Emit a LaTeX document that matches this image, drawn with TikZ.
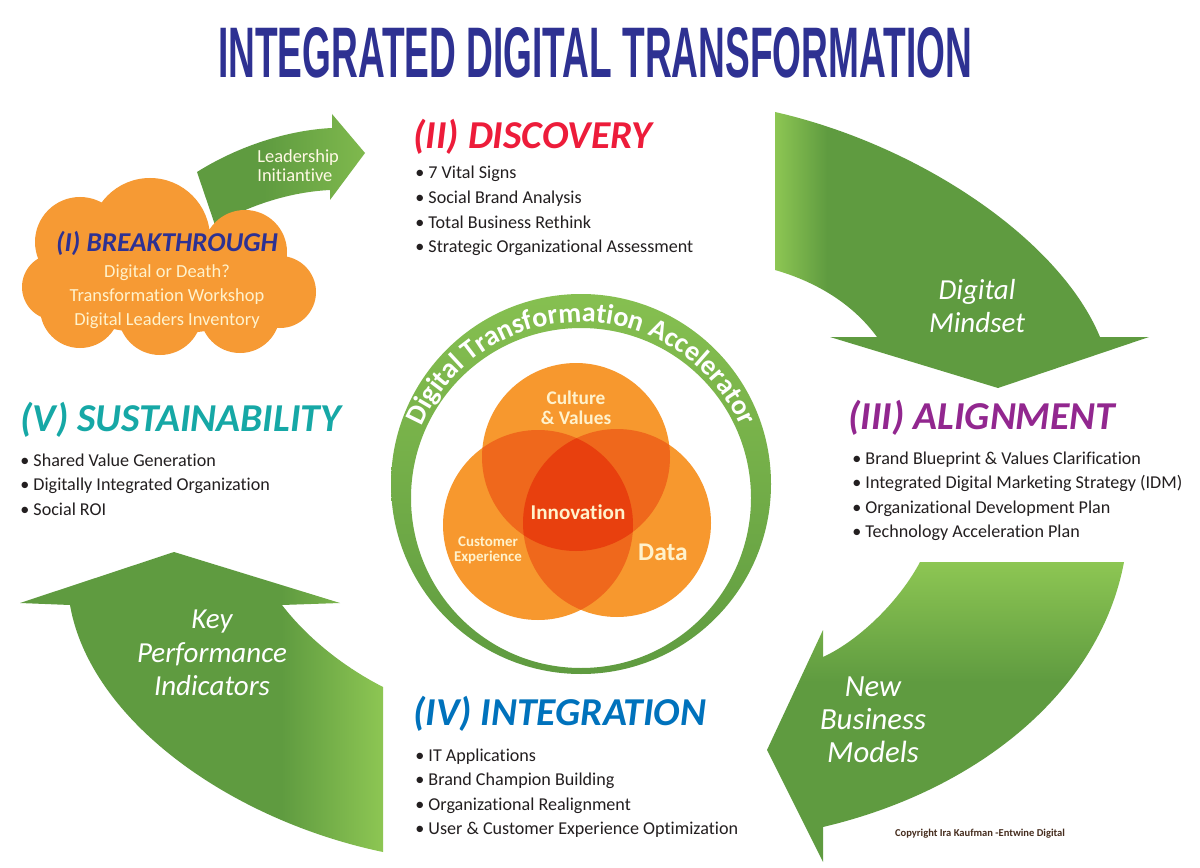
\documentclass[tikz,border=0pt]{standalone}
\usepackage{fontspec}
\setmainfont{Carlito}[Ligatures=NoCommon]
\newfontfamily\titlefont{Liberation Sans}
\usepackage{graphicx}
\usepackage{tikz}
\usetikzlibrary{decorations.text}

\definecolor{gdark}{RGB}{95,155,64}
\definecolor{glight}{RGB}{141,198,83}
\definecolor{navy}{RGB}{46,49,146}
\definecolor{discred}{RGB}{237,28,58}
\definecolor{alignpurple}{RGB}{146,39,143}
\definecolor{integblue}{RGB}{0,114,188}
\definecolor{sustteal}{RGB}{22,168,166}
\definecolor{cloudorange}{RGB}{246,154,52}
\definecolor{cream}{RGB}{255,242,204}
\definecolor{vbase}{RGB}{247,152,46}
\definecolor{vpair}{RGB}{239,104,28}
\definecolor{vtriple}{RGB}{232,64,14}
\definecolor{textgray}{RGB}{35,31,32}
\definecolor{copybrown}{RGB}{70,45,30}

\pgfdeclarehorizontalshading{leadshade}{100bp}{color(0bp)=(gdark); color(45bp)=(gdark); color(75bp)=(glight!70!gdark); color(100bp)=(glight!70!gdark)}
\pgfdeclarehorizontalshading{mindsetshade}{100bp}{color(0bp)=(glight); color(25bp)=(glight); color(32bp)=(gdark); color(100bp)=(gdark)}
\pgfdeclarehorizontalshading{kpishade}{100bp}{color(0bp)=(gdark); color(61bp)=(gdark); color(75bp)=(glight); color(100bp)=(glight)}
\pgfdeclareverticalshading{modelshade}{100bp}{color(0bp)=(gdark); color(55bp)=(gdark); color(75bp)=(glight); color(100bp)=(glight)}

\begin{document}
\begin{tikzpicture}[x=0.02cm, y=-0.02cm,
        head/.style = {anchor=base west, inner sep=0pt,
            font=\fontsize{22.5}{22.5}\selectfont\bfseries\itshape},
        item/.style = {anchor=base west, inner sep=0pt, text=textgray,
            font=\fontsize{10.3}{12}\selectfont},
        arrowtext/.style = {align=center, text=white,
            font=\fontsize{16.5}{19}\selectfont\itshape},
        venntext/.style = {align=center, text=cream, inner sep=0pt}]

    % Page
    \fill[white] (0,0) rectangle (1200,868);
    \useasboundingbox (0,0) rectangle (1200,868);

    % Title
    \node[text=navy, inner sep=0pt] (title) at (595,53)
        {\resizebox{15.08cm}{1cm}{\titlefont\bfseries INTEGRATED DIGITAL TRANSFORMATION}};

    % Leadership arrow
    \shade[shading=leadshade] (197,172) .. controls (240,145) and (290,130) .. (332,128)
        -- (332,114) -- (365,153) -- (330,200) -- (330,190)
        .. controls (290,192) and (250,205) .. (215,225) -- cycle;
    \node[align=left, anchor=west, text=cream!50!white, inner sep=0pt,
        font=\fontsize{10.5}{11}\selectfont] (lead) at (257,166) {Leadership\\Initiantive};

    % Cloud
    \fill[cloudorange] (150,238) circle (60) (80,242) circle (45) (245,252) circle (42)
        (280,292) circle (36) (240,313) circle (40) (160,313) circle (42)
        (80,308) circle (40) (55,287) circle (33) (165,282) ellipse (120 and 52);
    \node[inner sep=0pt, text=navy, font=\fontsize{15.5}{15.5}\selectfont\bfseries\itshape]
        (brk) at (167,243) {(I) BREAKTHROUGH};
    \node[align=center, text=cream, inner sep=0pt, font=\fontsize{10.5}{13.6}\selectfont]
        (brklist) at (167,297) {Digital or Death?\\Transformation Workshop\\Digital Leaders Inventory};

    % Discovery
    \node[head, text=discred] (disc) at (413,149) {(II) DISCOVERY};
    \foreach \t [count=\i] in {7 Vital Signs, Social Brand Analysis,
            Total Business Rethink, Strategic Organizational Assessment}
        \node[item] (disc\i) at (415,{179+24.6*(\i-1)}) {• \t};

    % Digital mindset arrow
    \shade[shading=mindsetshade] (775,112) .. controls (920,145) and (1060,240) .. (1100,337)
        -- (1149,337) -- (998,388) -- (830,337) -- (877,337)
        .. controls (850,300) and (810,280) .. (775,270) -- cycle;
    \node[arrowtext] (mindset) at (977,306) {Digital\\Mindset};

    % Alignment
    \node[head, text=alignpurple] (align) at (848,429) {(III) ALIGNMENT};
    \foreach \t [count=\i] in {Brand Blueprint \& Values Clarification,
            Integrated Digital Marketing Strategy (IDM),
            Organizational Development Plan, Technology Acceleration Plan}
        \node[item] (align\i) at (852,{464+24.6*(\i-1)}) {• \t};

    % New business models arrow
    \shade[shading=modelshade] (920,562) -- (1124,562)
        .. controls (1100,690) and (980,790) .. (823,827)
        -- (823,862) -- (767,750) -- (823,630) -- (823,657)
        .. controls (860,640) and (900,600) .. (920,562) -- cycle;
    \node[arrowtext, font=\fontsize{17.5}{18.8}\selectfont\itshape] (models) at (873,720)
        {New\\Business\\Models};

    % Integration
    \node[head, text=integblue] (integ) at (413,725) {(IV) INTEGRATION};
    \foreach \t [count=\i] in {IT Applications, Brand Champion Building,
            Organizational Realignment, User \& Customer Experience Optimization}
        \node[item] (integ\i) at (415,{761+24.6*(\i-1)}) {• \t};

    % KPI arrow
    \shade[shading=kpishade] (174,552) -- (340,603) -- (282,605)
        .. controls (305,635) and (340,665) .. (383,687) -- (383,852)
        .. controls (230,820) and (90,720) .. (70,605) -- (20,603) -- cycle;
    \node[arrowtext] (kpi) at (212,653) {Key\\Performance\\Indicators};

    % Sustainability
    \node[head, text=sustteal] (sust) at (20,431) {(V) SUSTAINABILITY};
    \foreach \t [count=\i] in {Shared Value Generation,
            Digitally Integrated Organization, Social ROI}
        \node[item] (sust\i) at (20,{466+24.6*(\i-1)}) {• \t};

    % Accelerator ring
    \coordinate (ringc) at (581,484);
    \coordinate (ringi) at (581,498);
    \coordinate (ringt) at (581,496);
    \shade[even odd rule, top color=glight!85!gdark, bottom color=gdark]
        (ringc) circle (190) (ringi) circle (170);
    \path[decorate, decoration={text along path, text align=center,
            text={|\fontsize{16}{16}\selectfont\bfseries\color{white}|Digital Transformation Accelerator}}]
        (ringt) ++(200:174) arc[start angle=200, end angle=340, radius=174];

    % Venn circles
    \coordinate (vtop) at (576,457);
    \coordinate (vleft) at (538,525);
    \coordinate (vright) at (617,523);
    \fill[vbase] (vtop) circle (94) (vleft) circle (95) (vright) circle (94);
    \begin{scope}
        \clip (vtop) circle (94);
        \fill[vpair] (vleft) circle (95) (vright) circle (94);
    \end{scope}
    \begin{scope}
        \clip (vleft) circle (95);
        \fill[vpair] (vright) circle (94);
    \end{scope}
    \begin{scope}
        \clip (vtop) circle (94);
        \clip (vleft) circle (95);
        \fill[vtriple] (vright) circle (94);
    \end{scope}

    % Venn labels
    \node[venntext, font=\fontsize{11}{11.5}\selectfont\bfseries] (culture) at (576,408) {Culture\\\& Values};
    \node[venntext, font=\fontsize{12}{12}\selectfont\bfseries] (innov) at (578,512) {Innovation};
    \node[venntext, font=\fontsize{8.5}{8.5}\selectfont\bfseries] (custexp) at (488,550) {Customer\\Experience};
    \node[venntext, font=\fontsize{14.5}{14.5}\selectfont\bfseries] (data) at (663,552) {Data};

    % Copyright
    \node[text=copybrown, inner sep=0pt, font=\fontsize{6}{6}\selectfont\bfseries] (copy) at (980,834)
        {Copyright Ira Kaufman -Entwine Digital};
\end{tikzpicture}
\end{document}
